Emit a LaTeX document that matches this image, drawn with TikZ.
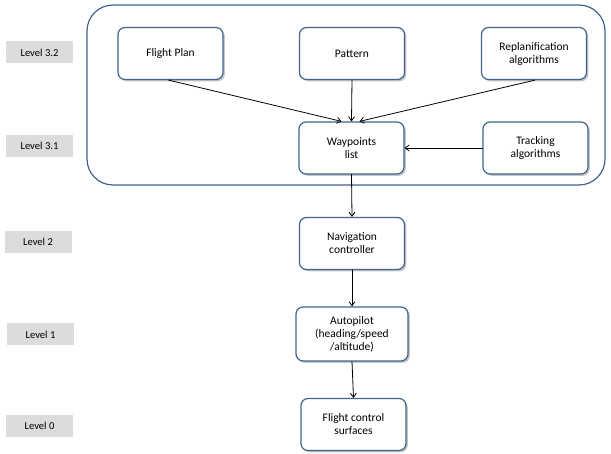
\documentclass[tikz,border=0pt]{standalone}
\usepackage{fontspec}
\setmainfont{Carlito}
\usetikzlibrary{arrows.meta,positioning,shadows}
\definecolor{navEdge}{HTML}{41648F}
\definecolor{navGrey}{HTML}{DCDCDC}

\begin{document}
\begin{tikzpicture}[x=1pt,y=-1pt,>={Straight Barb[length=4pt,width=6pt]},line cap=round,line join=round]
\path[fill=white] (0,0) rectangle (611,454);
\tikzset{blk/.style={draw=navEdge,fill=white,line width=1.2pt,rounded corners=7pt,align=center,font=\fontsize{11.5}{13}\selectfont,minimum width=105pt,minimum height=52pt,inner sep=2pt,drop shadow={opacity=0.45,shadow xshift=1.8pt,shadow yshift=-1.8pt}},lvl/.style={fill=navGrey,minimum width=67pt,minimum height=22pt,inner sep=0pt,font=\fontsize{10.6}{12}\selectfont},link/.style={draw=black,line width=0.8pt,->}}
% outer group of level 3
\draw[navEdge,line width=1.2pt,rounded corners=26pt] (87,5) rectangle (605,185);
% level tags
\node[lvl] (lvlA) at (39.5,52.5) {Level 3.2};
\node[lvl] (lvlB) at (39.5,146) {Level 3.1};
\node[lvl] (lvlC) at (38,242) {Level 2};
\node[lvl] (lvlD) at (40.5,334.5) {Level 1};
\node[lvl] (lvlE) at (39.5,426) {Level 0};
% blocks
\node[blk] (fplan) at (170.5,53.5) {Flight Plan};
\node[blk] (pattern) at (352,53.5) {Pattern};
\node[blk] (replan) at (534,53.5) {Replanification\\algorithms};
\node[blk] (wplist) at (351.5,148) {Waypoints\\list};
\node[blk] (tracking) at (535.5,148) {Tracking\\algorithms};
\node[blk] (navctl) at (352,243.5) {Navigation\\controller};
\node[blk,minimum width=112pt,minimum height=54pt] (autopilot) at (352,334) {Autopilot\\(heading/speed\\/altitude)};
\node[blk] (fcs) at (353.5,424.5) {Flight control\\surfaces};
% connectors
\draw[link] ([xshift=-2pt]fplan.south) -- ([xshift=-10pt]wplist.north);
\draw[link] (pattern.south) -- (wplist.north);
\draw[link] ([xshift=1pt]replan.south) -- ([xshift=8pt]wplist.north);
\draw[link] (tracking.west) -- (wplist.east);
\draw[link] (wplist.south) -- (navctl.north);
\draw[link] (navctl.south) -- (autopilot.north);
\draw[link] (autopilot.south) -- (fcs.north);
\end{tikzpicture}
\end{document}
